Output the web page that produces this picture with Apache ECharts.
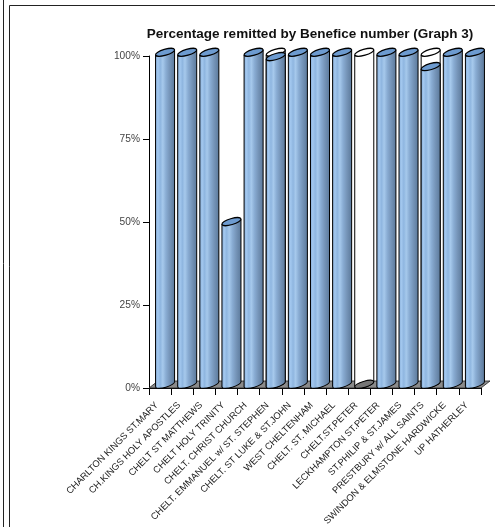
<!DOCTYPE html>
<html>
<head>
    <meta charset="utf-8" />
    <title>Percentage remitted by Benefice number</title>
    <script src="https://cdn.jsdelivr.net/npm/echarts@6.0.0/dist/echarts.min.js"></script>
    <style>html, body { margin: 0; padding: 0; background: #fff; }</style>
</head>
<body>
    <div id="main" style="width: 495px;height:527px;"></div>
    <script type="text/javascript">
        // benefice names along the x axis
        var benefices = [
            'CHARLTON KINGS ST.MARY',
            'CH.KINGS HOLY APOSTLES',
            'CHELT ST MATTHEWS',
            'CHELT HOLY TRINITY',
            'CHELT. CHRIST CHURCH',
            'CHELT. EMMANUEL w/ ST. STEPHEN',
            'CHELT. ST LUKE & ST.JOHN',
            'WEST CHELTENHAM',
            'CHELT. ST. MICHAEL',
            'CHELT.ST.PETER',
            'LECKHAMPTON ST.PETER',
            'ST.PHILIP & ST.JAMES',
            'PRESTBURY w/ ALL SAINTS',
            'SWINDON & ELMSTONE HARDWICKE',
            'UP HATHERLEY'
        ];
        // percentage remitted (blue cylinders)
        var remitted = [100, 100, 100, 49, 100, 98.7, 100, 100, 100, 0, 100, 100, 95.7, 100, 100];
        // outline cylinders behind (only show where they rise above the blue one)
        var target = [100, 100, 100, 49, 100, 100, 100, 100, 100, 100, 100, 100, 100, 100, 100];
        var yTicks = [0, 25, 50, 75, 100];

        var FONT = '"Liberation Sans", Arial, Helvetica, sans-serif';
        var DX = 5, DY = -3.7;      // bars sit half way back on the floor
        var FX = 9, FY = -7;        // floor depth
        var TILT = 0.28, RY = 3;    // top ellipse

        var bodyFill = new echarts.graphic.LinearGradient(0, 0, 1, 0, [
            { offset: 0, color: '#86acd6' },
            { offset: 0.12, color: '#a3c8ef' },
            { offset: 0.25, color: '#8fb6e0' },
            { offset: 0.38, color: '#a6c9ec' },
            { offset: 0.55, color: '#89acd3' },
            { offset: 0.75, color: '#7594b8' },
            { offset: 1, color: '#5c7a9c' }
        ]);

        function ellipseRx(hw) {
            return Math.sqrt((hw * hw - RY * RY * Math.sin(TILT) * Math.sin(TILT)) / (Math.cos(TILT) * Math.cos(TILT)));
        }

        function cylinder(list, cx, by, ty, hw, fill, topFill) {
            var rx = ellipseRx(hw);
            var off = (rx * rx - RY * RY) * Math.sin(TILT) * Math.cos(TILT) / hw;
            list.push({
                type: 'ellipse', x: cx, y: by, rotation: TILT,
                shape: { cx: 0, cy: 0, rx: rx, ry: RY },
                style: { fill: fill, stroke: '#000', lineWidth: 1 }
            });
            list.push({
                type: 'polygon',
                shape: { points: [[cx - hw, ty + off], [cx + hw, ty - off], [cx + hw, by - off], [cx - hw, by + off]] },
                style: { fill: fill }
            });
            list.push({
                type: 'line',
                shape: { x1: cx - hw, y1: ty + off, x2: cx - hw, y2: by + off },
                style: { stroke: '#000', lineWidth: 1 }
            });
            list.push({
                type: 'line',
                shape: { x1: cx + hw, y1: ty - off, x2: cx + hw, y2: by - off },
                style: { stroke: '#000', lineWidth: 1 }
            });
            list.push({
                type: 'ellipse', x: cx, y: ty, rotation: TILT,
                shape: { cx: 0, cy: 0, rx: rx, ry: RY },
                style: { fill: topFill, stroke: '#000', lineWidth: 1.2 }
            });
        }

        var barData = benefices.map(function (name, i) {
            return [i, remitted[i], target[i]];
        });

        var myChart = echarts.init(document.getElementById('main'));
        var option = {
            animation: false,
            title: {
                text: 'Percentage remitted by Benefice number (Graph 3)',
                left: 305,
                top: 22,
                textAlign: 'center',
                textStyle: { fontFamily: FONT, fontSize: 13.5, fontWeight: 'bold', color: '#111' }
            },
            graphic: [
                { type: 'line', shape: { x1: 3.5, y1: 0, x2: 3.5, y2: 527 }, style: { stroke: '#222', lineWidth: 1 } },
                { type: 'rect', shape: { x: 9.5, y: 5.5, width: 500, height: 540 }, style: { fill: 'none', stroke: '#222', lineWidth: 1 } }
            ],
            grid: { left: 149, right: 14, top: 56, bottom: 139, outerBoundsMode: 'none' },
            xAxis: {
                type: 'category',
                data: benefices,
                axisLine: { show: true, lineStyle: { color: '#000', width: 1 } },
                axisTick: { show: true, length: 7, lineStyle: { color: '#000' } },
                axisLabel: {
                    interval: 0, rotate: 45, margin: 19, verticalAlign: 'bottom',
                    fontFamily: FONT, fontSize: 9.4, color: '#222'
                },
                splitLine: { show: false }
            },
            yAxis: {
                type: 'value',
                min: yTicks[0],
                max: yTicks[yTicks.length - 1],
                interval: 25,
                axisLine: { show: true, lineStyle: { color: '#000', width: 1 } },
                axisTick: { show: true, length: 6, lineStyle: { color: '#000' } },
                axisLabel: { formatter: '{value}%', margin: 9, fontFamily: FONT, fontSize: 10.2, color: '#444' },
                splitLine: { show: false }
            },
            series: [{
                // floor
                type: 'custom',
                silent: true,
                z: 1,
                data: [[0, 0]],
                renderItem: function (params, api) {
                    var cs = params.coordSys;
                    var y0 = api.coord([0, 0])[1];
                    var x0 = cs.x, x1 = cs.x + cs.width;
                    return {
                        type: 'polygon',
                        shape: { points: [[x0, y0], [x1, y0], [x1 + FX, y0 + FY], [x0 + FX, y0 + FY]] },
                        style: { fill: '#8b8b8b', stroke: '#222', lineWidth: 0.8 }
                    };
                }
            }, {
                type: 'custom',
                z: 2,
                encode: { x: 0, y: 1 },
                data: barData,
                renderItem: function (params, api) {
                    var idx = api.value(0);
                    var val = api.value(1);
                    var tgt = api.value(2);
                    var base = api.coord([idx, 0]);
                    var cx = base[0] + DX;
                    var by = base[1] + DY;
                    var hw = api.size([1, 0])[0] * 0.43;
                    var children = [];
                    if (tgt > val) {
                        cylinder(children, cx, by, api.coord([idx, tgt])[1] + DY, hw, '#fff', '#fff');
                    }
                    if (val > 0) {
                        cylinder(children, cx, by, api.coord([idx, val])[1] + DY, hw, bodyFill, '#6d9bd0');
                    } else {
                        children.push({
                            type: 'ellipse', x: cx, y: by, rotation: TILT,
                            shape: { cx: 0, cy: 0, rx: ellipseRx(hw), ry: RY },
                            style: { fill: '#767676', stroke: '#000', lineWidth: 1 }
                        });
                    }
                    return { type: 'group', children: children };
                }
            }]
        };
        myChart.setOption(option);
    </script>
</body>
</html>
